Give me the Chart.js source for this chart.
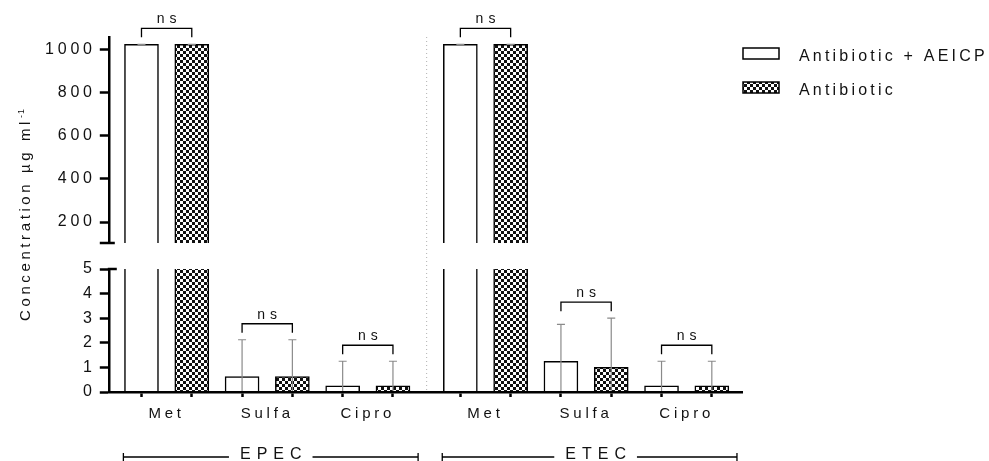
<!DOCTYPE html>
<html>
<head>
<meta charset="utf-8">
<title>MIC - EPEC / ETEC</title>
<script src="https://cdn.jsdelivr.net/npm/chart.js@4.4.1/dist/chart.umd.min.js"></script>
<style>
  html, body { margin: 0; padding: 0; background: #fff; }
</style>
</head>
<body>
<canvas id="chart" width="989" height="461"></canvas>
<script>
/* =========================================
   Data
   ========================================= */
const GROUPS = ['EPEC', 'ETEC'];
const DRUGS = ['Met', 'Sulfa', 'Cipro'];
const SERIES = ['Antibiotic + AEICP', 'Antibiotic'];

// order: EPEC Met, Sulfa, Cipro, then ETEC Met, Sulfa, Cipro
const COMBO_MEAN = [1024, 0.625, 0.25, 1024, 1.25, 0.25];
const COMBO_SD   = [0, 1.5, 1.0, 0, 1.5, 1.0];
const ALONE_MEAN = [1024, 0.625, 0.25, 1024, 1.0, 0.25];
const ALONE_SD   = [0, 1.5, 1.0, 0, 2.0, 1.0];
const SIGNIF     = ['ns', 'ns', 'ns', 'ns', 'ns', 'ns'];

const Y_LOW_TICKS  = [0, 1, 2, 3, 4, 5];
const Y_HIGH_TICKS = [200, 400, 600, 800, 1000];

/* =========================================
   Layout helpers
   ========================================= */
const LOW_MAX = 5;          // lower segment of the broken axis
const HIGH_MIN = 103;       // upper segment
const HIGH_MAX = 1058;
const GROUP_GAP = 0.34;     // extra room between EPEC and ETEC, in bar slots
const FONT = "'Liberation Sans', Arial, sans-serif";
const TEXT = '#111';

const barPos = (k, s) => {
    const g = Math.floor(k / DRUGS.length);
    const c = k % DRUGS.length;
    return g * (DRUGS.length * 2 + GROUP_GAP) + c * 2 + s;
};
const N = COMBO_MEAN.length;
const X_MIN = barPos(0, 0) - 0.65;
const X_MAX = barPos(N - 1, 1) + 0.6;

const ctx0 = document.getElementById('chart').getContext('2d');

function checker() {
    const c = document.createElement('canvas');
    c.width = 6; c.height = 6;
    const g = c.getContext('2d');
    g.fillStyle = '#fff'; g.fillRect(0, 0, 6, 6);
    g.fillStyle = '#111';
    g.fillRect(0, 0, 3, 3);
    g.fillRect(3, 3, 3, 3);
    return ctx0.createPattern(c, 'repeat');
}
const HATCH = checker();

function points(means, s, keep) {
    return means.map((v, k) => ({ x: barPos(k, s), y: keep(v) ? v : null }));
}
const all = () => true;
const high = v => v > HIGH_MIN;

function barSet(label, means, sd, s, axis, keep) {
    return {
        label: label,
        data: points(means, s, keep),
        errors: sd,
        xAxisID: 'x',
        yAxisID: axis,
        backgroundColor: s === 0 ? '#fff' : HATCH,
        borderColor: '#000',
        borderWidth: 1.5,
        borderSkipped: 'start',
        barThickness: 34,
        grouped: false
    };
}

/* =========================================
   Plugins
   ========================================= */
const spacing = {
    id: 'spacing',
    beforeUpdate(chart) { chart.ctx.letterSpacing = '3.8px'; },
    beforeDraw(chart) { chart.ctx.letterSpacing = '3.8px'; }
};

// keep each dataset inside its own segment of the broken axis
const clipToAxis = {
    id: 'clipToAxis',
    beforeDatasetDraw(chart, args) {
        const ys = args.meta.yScale;
        const ca = chart.chartArea;
        chart.ctx.save();
        chart.ctx.beginPath();
        chart.ctx.rect(ca.left, ys.top - 2, ca.right - ca.left, ys.bottom - ys.top + 2);
        chart.ctx.clip();
    },
    afterDatasetDraw(chart) { chart.ctx.restore(); }
};

const errorBars = {
    id: 'errorBars',
    afterDatasetsDraw(chart) {
        const ctx = chart.ctx;
        const ca = chart.chartArea;
        chart.data.datasets.forEach((ds, i) => {
            const meta = chart.getDatasetMeta(i);
            const ys = meta.yScale;
            ctx.save();
            ctx.beginPath();
            ctx.rect(ca.left, ys.top - 2, ca.right - ca.left, ys.bottom - ys.top + 2);
            ctx.clip();
            ctx.strokeStyle = '#8a8a8a';
            ctx.lineWidth = 1.2;
            ds.data.forEach((pt, j) => {
                if (pt.y === null) return;
                const x = meta.data[j].x;
                const hi = ys.getPixelForValue(pt.y + ds.errors[j]);
                const lo = ys.getPixelForValue(Math.max(pt.y - ds.errors[j], 0));
                ctx.beginPath();
                ctx.moveTo(x, lo); ctx.lineTo(x, hi);
                ctx.moveTo(x - 4, hi); ctx.lineTo(x + 4, hi);
                ctx.stroke();
            });
            ctx.restore();
        });
    }
};

const brackets = {
    id: 'brackets',
    afterDatasetsDraw(chart) {
        const { ctx, scales } = chart;
        ctx.save();
        ctx.strokeStyle = '#000';
        ctx.lineWidth = 1.3;
        ctx.fillStyle = TEXT;
        ctx.font = '14px ' + FONT;
        ctx.letterSpacing = '5px';
        ctx.textAlign = 'center';
        ctx.textBaseline = 'middle';
        SIGNIF.forEach((label, k) => {
            const peak = Math.max(COMBO_MEAN[k] + COMBO_SD[k], ALONE_MEAN[k] + ALONE_SD[k]);
            const ys = peak > HIGH_MIN ? scales.yHigh : scales.yLow;
            const legY = ys.getPixelForValue(peak) - 7;
            const topY = legY - 9;
            const xa = scales.x.getPixelForValue(barPos(k, 0));
            const xb = scales.x.getPixelForValue(barPos(k, 1));
            ctx.beginPath();
            ctx.moveTo(xa, legY); ctx.lineTo(xa, topY);
            ctx.lineTo(xb, topY); ctx.lineTo(xb, legY);
            ctx.stroke();
            ctx.fillText(label, (xa + xb) / 2 + 2.5, topY - 9);
        });
        ctx.restore();
    }
};

// axis break marks, the dotted divider, title, group bars and legend
const decorations = {
    id: 'decorations',
    beforeDatasetsDraw(chart) {
        const { ctx, scales, chartArea: ca } = chart;
        const xm = scales.x.getPixelForValue((barPos(2, 1) + barPos(3, 0)) / 2);
        ctx.save();
        ctx.strokeStyle = '#b0b0b0';
        ctx.lineWidth = 1;
        ctx.setLineDash([1, 3]);
        ctx.beginPath();
        ctx.moveTo(xm, ca.top); ctx.lineTo(xm, ca.bottom);
        ctx.stroke();
        ctx.restore();
    },
    afterDraw(chart) {
        const { ctx, scales, chartArea: ca } = chart;
        const ax = ca.left;
        ctx.save();

        // break marks
        ctx.strokeStyle = '#000';
        ctx.lineWidth = 2.5;
        ctx.beginPath();
        ctx.moveTo(ax - 9, scales.yHigh.bottom); ctx.lineTo(ax + 6, scales.yHigh.bottom);
        ctx.moveTo(ax - 1, scales.yLow.top); ctx.lineTo(ax + 8, scales.yLow.top);
        ctx.stroke();

        // y title
        ctx.fillStyle = TEXT;
        ctx.save();
        ctx.translate(25, (ca.top + ca.bottom) / 2);
        ctx.rotate(-Math.PI / 2);
        ctx.font = '15px ' + FONT;
        ctx.letterSpacing = '3.6px';
        const main = 'Concentration µg ml';
        const wMain = ctx.measureText(main).width;
        ctx.font = '9px ' + FONT;
        ctx.letterSpacing = '1px';
        const wSup = ctx.measureText('-1').width;
        const x0 = -(wMain + wSup) / 2;
        ctx.textAlign = 'left';
        ctx.textBaseline = 'alphabetic';
        ctx.fillText('-1', x0 + wMain, -1);
        ctx.font = '15px ' + FONT;
        ctx.letterSpacing = '3.6px';
        ctx.fillText(main, x0, 5);
        ctx.restore();

        // group labels under the axis
        ctx.font = '16px ' + FONT;
        ctx.letterSpacing = '6px';
        ctx.textAlign = 'center';
        ctx.textBaseline = 'middle';
        ctx.lineWidth = 1.3;
        const gy = 457;
        GROUPS.forEach((name, g) => {
            const first = g * DRUGS.length;
            const last = first + DRUGS.length - 1;
            const x1 = scales.x.getPixelForValue(barPos(first, 0) - 0.36);
            const x2 = scales.x.getPixelForValue(barPos(last, 1) + 0.5);
            const xc = (x1 + x2) / 2 + g * 6;
            const half = ctx.measureText(name).width / 2 + 8;
            ctx.beginPath();
            ctx.moveTo(x1, gy); ctx.lineTo(xc - half, gy);
            ctx.moveTo(xc + half, gy); ctx.lineTo(x2, gy);
            ctx.moveTo(x1, gy - 4); ctx.lineTo(x1, gy + 4);
            ctx.moveTo(x2, gy - 4); ctx.lineTo(x2, gy + 4);
            ctx.stroke();
            ctx.fillText(name, xc + 3, gy - 2);
        });

        // legend
        ctx.font = '16px ' + FONT;
        ctx.letterSpacing = '3.2px';
        ctx.textAlign = 'left';
        ctx.lineWidth = 1.5;
        SERIES.forEach((name, i) => {
            const ds = chart.data.datasets[i];
            const y = ca.top + 20 + i * 34;
            ctx.fillStyle = ds.backgroundColor;
            ctx.fillRect(ca.right + 1, y - 9, 36, 11);
            ctx.strokeRect(ca.right + 1, y - 9, 36, 11);
            ctx.fillStyle = TEXT;
            ctx.fillText(name, ca.right + 57, y);
        });
        ctx.restore();
    }
};

/* =========================================
   Chart
   ========================================= */
const catTicks = COMBO_MEAN.map((v, k) => ({ value: barPos(k, 0) + 0.5 }));
const catLabels = GROUPS.flatMap(() => DRUGS);
const barTicks = COMBO_MEAN.flatMap((v, k) => [{ value: barPos(k, 0) }, { value: barPos(k, 1) }]);

const sideAxis = (min, max, ticks, weight) => ({
    type: 'linear',
    position: 'left',
    stack: 'y',
    stackWeight: weight,
    min: min,
    max: max,
    afterBuildTicks: s => { s.ticks = ticks.map(v => ({ value: v })); },
    ticks: { padding: 4, color: TEXT, font: { size: 16 }, autoSkip: false, callback: v => String(v) },
    grid: { drawOnChartArea: false, tickLength: 9, tickWidth: 2.5, tickColor: '#000' },
    border: { color: '#000', width: 2.5 }
});

new Chart(ctx0, {
    type: 'bar',
    data: {
        datasets: [
            barSet(SERIES[0], COMBO_MEAN, COMBO_SD, 0, 'yLow', all),
            barSet(SERIES[1], ALONE_MEAN, ALONE_SD, 1, 'yLow', all),
            barSet(SERIES[0], COMBO_MEAN, COMBO_SD, 0, 'yHigh', high),
            barSet(SERIES[1], ALONE_MEAN, ALONE_SD, 1, 'yHigh', high)
        ]
    },
    options: {
        responsive: false,
        devicePixelRatio: 1,
        animation: false,
        font: { family: FONT },
        layout: { padding: { left: 41, top: 37, right: 247, bottom: 30 } },
        plugins: {
            legend: { display: false },
            tooltip: { enabled: false }
        },
        scales: {
            x: {
                type: 'linear',
                position: 'bottom',
                offset: false,
                min: X_MIN,
                max: X_MAX,
                afterBuildTicks: s => { s.ticks = barTicks.slice(); },
                ticks: { display: false },
                grid: { offset: false, drawOnChartArea: false, tickLength: 5, tickWidth: 2.5, tickColor: '#000' },
                border: { color: '#000', width: 2.5, z: 1 }
            },
            xCat: {
                type: 'linear',
                position: 'bottom',
                offset: false,
                min: X_MIN,
                max: X_MAX,
                afterBuildTicks: s => { s.ticks = catTicks.slice(); },
                ticks: {
                    callback: (v, i) => catLabels[i],
                    autoSkip: false,
                    maxRotation: 0,
                    padding: 8,
                    color: TEXT,
                    font: { size: 15 }
                },
                grid: { offset: false, display: false, drawTicks: false },
                border: { display: false }
            },
            yLow: sideAxis(0, LOW_MAX, Y_LOW_TICKS, 123),
            yGap: {
                type: 'linear',
                position: 'left',
                stack: 'y',
                stackWeight: 26,
                ticks: { display: false },
                grid: { display: false, drawTicks: false },
                border: { display: false }
            },
            yHigh: sideAxis(HIGH_MIN, HIGH_MAX, Y_HIGH_TICKS, 206)
        }
    },
    plugins: [spacing, clipToAxis, errorBars, brackets, decorations]
});
</script>
</body>
</html>
